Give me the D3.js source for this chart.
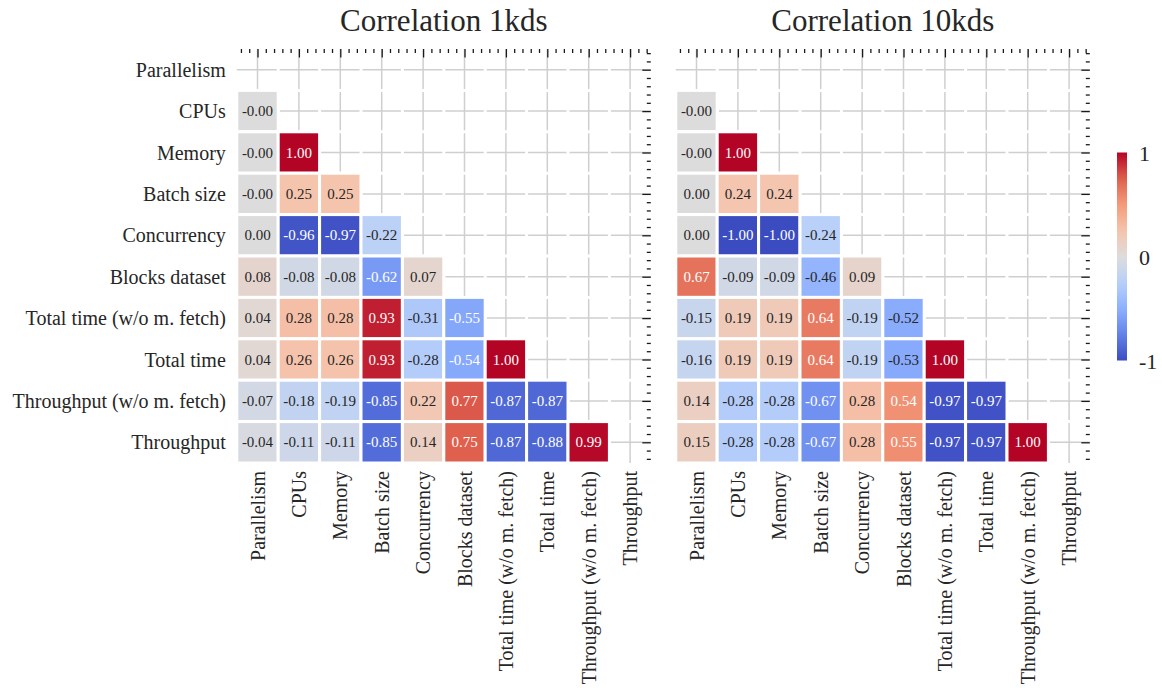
<!DOCTYPE html>
<html>
<head>
<meta charset="utf-8">
<script src="https://cdn.jsdelivr.net/npm/d3@7"></script>
<style>
  body { margin: 0; background: #ffffff; }
  text { font-family: "Liberation Serif", "DejaVu Serif", serif; }
</style>
</head>
<body>
<svg id="chart" width="1162" height="688"></svg>
<script>
// Variables shared by both correlation matrices (rows and columns)
const variables = [
  "Parallelism", "CPUs", "Memory", "Batch size", "Concurrency",
  "Blocks dataset", "Total time (w/o m. fetch)", "Total time",
  "Throughput (w/o m. fetch)", "Throughput"
];

// Lower triangle (below the diagonal) of each matrix, row by row
const corr1kds = [
  [],
  [-0.001],
  [-0.001, 1.00],
  [-0.001, 0.25, 0.25],
  [0.00, -0.96, -0.97, -0.22],
  [0.08, -0.08, -0.08, -0.62, 0.07],
  [0.04, 0.28, 0.28, 0.93, -0.31, -0.55],
  [0.04, 0.26, 0.26, 0.93, -0.28, -0.54, 1.00],
  [-0.07, -0.18, -0.19, -0.85, 0.22, 0.77, -0.87, -0.87],
  [-0.04, -0.11, -0.11, -0.85, 0.14, 0.75, -0.87, -0.88, 0.99]
];

const corr10kds = [
  [],
  [-0.001],
  [-0.001, 1.00],
  [0.00, 0.24, 0.24],
  [0.00, -1.00, -1.00, -0.24],
  [0.67, -0.09, -0.09, -0.46, 0.09],
  [-0.15, 0.19, 0.19, 0.64, -0.19, -0.52],
  [-0.16, 0.19, 0.19, 0.64, -0.19, -0.53, 1.00],
  [0.14, -0.28, -0.28, -0.67, 0.28, 0.54, -0.97, -0.97],
  [0.15, -0.28, -0.28, -0.67, 0.28, 0.55, -0.97, -0.97, 1.00]
];

const panelTitles = ["Correlation 1kds", "Correlation 10kds"];
const colorbarTicks = [1, 0, -1];

// Diverging "coolwarm" colour map, nodes evenly spaced over [-1, 1]
const coolwarmNodes = ["#3b4cc0", "#6282ea", "#8db0fe", "#b8d0f9", "#dddcdc",
                       "#f5c4ad", "#f49a7b", "#de604d", "#b40426"];

const svg = d3.select("#chart");
const W = 1162, H = 688;
svg.append("rect").attr("width", W).attr("height", H).attr("fill", "#ffffff");

const n = variables.length;
const cell = 41.4;
const plotTop = 49;
const panelLefts = [236.8, 675.8];
const labelFont = 20;

const color = d3.scaleLinear()
  .domain(coolwarmNodes.map((_, i) => -1 + i * 2 / (coolwarmNodes.length - 1)))
  .range(coolwarmNodes)
  .interpolate(d3.interpolateRgb)
  .clamp(true);

function luminance(c) {
  const rgb = d3.rgb(c);
  const f = v => { v /= 255; return v <= 0.03928 ? v / 12.92 : Math.pow((v + 0.055) / 1.055, 2.4); };
  return 0.2126 * f(rgb.r) + 0.7152 * f(rgb.g) + 0.0722 * f(rgb.b);
}

const matrices = [corr1kds, corr10kds];

matrices.forEach((matrix, p) => {
  const left = panelLefts[p];
  const right = left + n * cell;
  const bottom = plotTop + n * cell;

  const xBand = d3.scaleBand().domain(variables).range([left, right]);
  const yBand = d3.scaleBand().domain(variables).range([plotTop, bottom]);
  const xu = d3.scaleLinear().domain([0, n]).range([left, right]);
  const yu = d3.scaleLinear().domain([0, n]).range([plotTop, bottom]);

  const g = svg.append("g");

  // Background grid through cell centres
  const grid = g.append("g").attr("stroke", "#cfcfcf").attr("stroke-width", 1.5);
  variables.forEach(v => {
    const cx = xBand(v) + xBand.bandwidth() / 2;
    grid.append("line").attr("x1", cx).attr("x2", cx).attr("y1", plotTop).attr("y2", bottom);
    const cy = yBand(v) + yBand.bandwidth() / 2;
    grid.append("line").attr("x1", left).attr("x2", right).attr("y1", cy).attr("y2", cy);
  });
  // White cell edges break the grid at every cell boundary
  const edges = g.append("g").attr("stroke", "#ffffff").attr("stroke-width", 3);
  d3.range(1, n).forEach(k => {
    edges.append("line").attr("x1", xu(k)).attr("x2", xu(k)).attr("y1", plotTop).attr("y2", bottom);
    edges.append("line").attr("x1", left).attr("x2", right).attr("y1", yu(k)).attr("y2", yu(k));
  });

  // Cells of the lower triangle
  const cells = [];
  matrix.forEach((row, i) => row.forEach((v, j) => cells.push({ row: variables[i], col: variables[j], v })));

  const cg = g.append("g").selectAll("g").data(cells).join("g");
  cg.append("rect")
    .attr("x", d => xBand(d.col))
    .attr("y", d => yBand(d.row))
    .attr("width", xBand.bandwidth())
    .attr("height", yBand.bandwidth())
    .attr("fill", d => color(d.v))
    .attr("stroke", "#ffffff")
    .attr("stroke-width", 3);
  cg.append("text")
    .attr("x", d => xBand(d.col) + xBand.bandwidth() / 2)
    .attr("y", d => yBand(d.row) + yBand.bandwidth() / 2)
    .attr("text-anchor", "middle")
    .attr("dominant-baseline", "central")
    .attr("font-size", 15)
    .attr("fill", d => luminance(color(d.v)) > 0.408 ? "#262626" : "#ffffff")
    .text(d => d.v.toFixed(2));

  // Inward ticks on the top and right edges (major at cell centres, minor in between)
  const majors = d3.range(n).map(i => i + 0.5);
  const minors = [];
  d3.range(n).forEach(i => [0.1, 0.3, 0.7, 0.9].forEach(o => minors.push(i + o)));

  const styleAxis = sel => {
    sel.select(".domain").remove();
    sel.selectAll("line").attr("stroke", "#1a1a1a").attr("stroke-width", 1.3);
  };
  g.append("g").attr("transform", `translate(0,${plotTop})`)
    .call(d3.axisTop(xu).tickValues(minors).tickSize(-4).tickFormat(""))
    .call(styleAxis);
  g.append("g").attr("transform", `translate(0,${plotTop})`)
    .call(d3.axisTop(xu).tickValues(majors).tickSize(-8.5).tickFormat(""))
    .call(styleAxis);
  g.append("g").attr("transform", `translate(${right},0)`)
    .call(d3.axisRight(yu).tickValues(minors).tickSize(-4).tickFormat(""))
    .call(styleAxis);
  g.append("g").attr("transform", `translate(${right},0)`)
    .call(d3.axisRight(yu).tickValues(majors).tickSize(-8.5).tickFormat(""))
    .call(styleAxis);

  // Column labels, rotated
  const xAxis = g.append("g").attr("transform", `translate(0,${bottom})`)
    .call(d3.axisBottom(xBand).tickSize(0).tickPadding(0));
  xAxis.select(".domain").remove();
  xAxis.selectAll("text")
    .attr("font-family", "'Liberation Serif', 'DejaVu Serif', serif")
    .attr("font-size", labelFont)
    .attr("fill", "#262626")
    .attr("text-anchor", "end")
    .attr("dy", null)
    .attr("dominant-baseline", "central")
    .attr("transform", "translate(0,8) rotate(-90)")
    .attr("x", 0).attr("y", 0);

  // Row labels on the first panel only
  if (p === 0) {
    const yAxis = g.append("g").attr("transform", `translate(${left},0)`)
      .call(d3.axisLeft(yBand).tickSize(0).tickPadding(11));
    yAxis.select(".domain").remove();
    yAxis.selectAll("text")
      .attr("font-family", "'Liberation Serif', 'DejaVu Serif', serif")
      .attr("font-size", labelFont)
      .attr("fill", "#262626")
      .attr("dy", null)
      .attr("dominant-baseline", "central");
  }

  g.append("text")
    .attr("x", (left + right) / 2)
    .attr("y", 31)
    .attr("text-anchor", "middle")
    .attr("font-size", 31)
    .attr("fill", "#262626")
    .text(panelTitles[p]);
});

// Colour bar
const cbX = 1117, cbW = 10, cbTop = 152.5, cbBottom = 360.5;
const cbScale = d3.scaleLinear().domain([1, -1]).range([cbTop, cbBottom]);
const grad = svg.append("defs").append("linearGradient")
  .attr("id", "cbgrad").attr("x1", 0).attr("x2", 0).attr("y1", 1).attr("y2", 0);
d3.range(0, 1.0001, 0.05).forEach(t => {
  grad.append("stop").attr("offset", t).attr("stop-color", color(-1 + 2 * t));
});
svg.append("rect")
  .attr("x", cbX).attr("y", cbTop).attr("width", cbW).attr("height", cbBottom - cbTop)
  .attr("fill", "url(#cbgrad)");
const cbAxis = svg.append("g").attr("transform", `translate(${cbX + cbW},0)`)
  .call(d3.axisRight(cbScale).tickValues(colorbarTicks).tickSize(0).tickPadding(12)
    .tickFormat(d => d < 0 ? "-" + Math.abs(d) : String(d)));
cbAxis.select(".domain").remove();
cbAxis.selectAll("text")
  .attr("font-family", "'Liberation Serif', 'DejaVu Serif', serif")
  .attr("font-size", 22)
  .attr("fill", "#262626")
  .attr("dy", null)
  .attr("dominant-baseline", "central");
</script>
</body>
</html>
